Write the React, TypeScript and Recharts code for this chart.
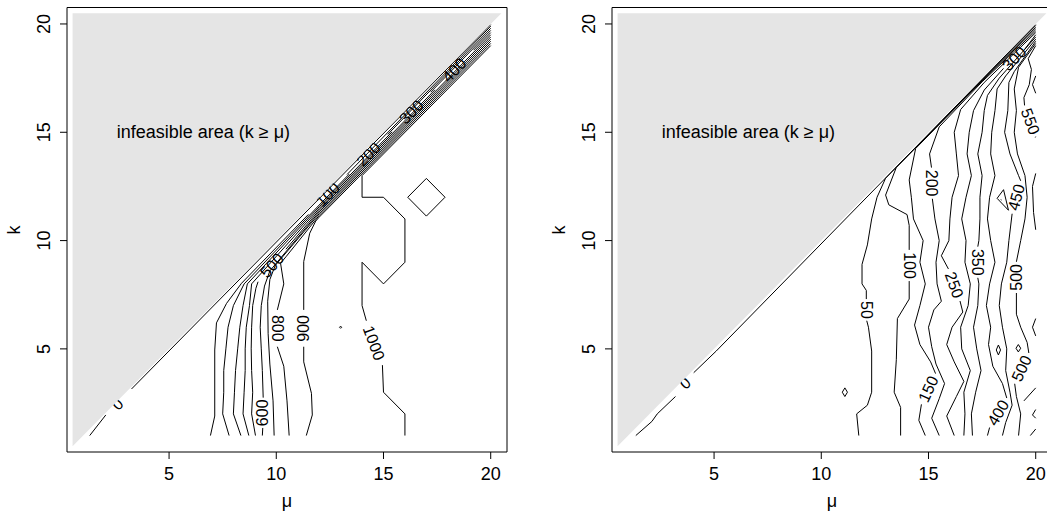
import React from 'react';
import { ComposedChart, XAxis, YAxis, Scatter, Area, ReferenceArea } from 'recharts';

type Pt = [number, number];
type Seg = Pt[];

const FONT = '"Liberation Sans", Arial, Helvetica, sans-serif';

const muTicks = [5, 10, 15, 20];
const kTicks = [5, 10, 15, 20];
const axisDomain: [number, number] = [0.24, 20.76];
const infeasibleTriangle = [
  { x: 0.5, r: [0.5, 20.5] },
  { x: 20.5, r: [20.5, 20.5] },
];
const infeasibleText = [{ x: 6.6, y: 15, t: 'infeasible area (k \u2265 \u03bc)' }];

// ---------- left panel contours (mu, k) ----------
const left0: Seg[] = [
  [[1.3, 1.0], [2.05, 1.95]],
  [[3.25, 3.15], [20, 19.97]],
];
const left100: Seg[] = [
  [[6.93, 1.0], [7.13, 1.9], [7.13, 4.95], [7.21, 6.2], [7.68, 7.1], [8.38, 8.03], [11.5, 11.21]],
  [[13.3, 13.05], [20, 19.9]],
];
const left200: Seg[] = [
  [[7.8, 1.0], [7.5, 2.0], [7.55, 3.0], [7.55, 4.0], [7.65, 5.0], [7.75, 6.0], [8.0, 7.0], [8.5, 8.0], [12, 11.64], [13.4, 13.07]],
  [[15.2, 14.9], [20, 19.8]],
];
const left300: Seg[] = [
  [[8.35, 1.0], [8.0, 2.0], [8.05, 3.0], [8.1, 4.0], [8.2, 5.0], [8.3, 6.0], [8.45, 7.0], [8.65, 8.0], [12, 11.56], [15.4, 15.02]],
  [[17.2, 16.85], [20, 19.7]],
];
const left400: Seg[] = [
  [[8.72, 1.0], [8.45, 2.0], [8.5, 3.0], [8.55, 4.0], [8.55, 5.0], [8.6, 6.0], [8.75, 7.0], [8.85, 8.0], [12, 11.48], [17.4, 16.96]],
  [[19.2, 18.79], [20, 19.6]],
];
const left500: Seg[] = [
  [[9.03, 1.0], [8.85, 2.0], [8.9, 3.0], [8.85, 4.0], [8.83, 5.0], [8.85, 6.0], [8.9, 7.0], [9.05, 7.8], [9.15, 8.1]],
  [[10.45, 9.6], [12, 11.4], [20, 19.5]],
];
const left600: Seg[] = [
  [[9.35, 1.0], [9.37, 1.35]],
  [[9.39, 2.75], [9.35, 4.0], [9.3, 5.0], [9.25, 6.0], [9.3, 7.0], [9.45, 7.9], [9.7, 8.6], [12, 11.32], [20, 19.4]],
];
const left700: Seg[] = [
  [[9.9, 1.0], [9.85, 2.6], [9.7, 4.3], [9.62, 5.7], [9.6, 7.2], [9.7, 8.2], [9.95, 8.85], [12, 11.24], [20, 19.3]],
];
const left800: Seg[] = [
  [[10.6, 1.0], [10.5, 2.6], [10.35, 4.2], [10.05, 5.1]],
  [[10.05, 6.8], [10.35, 8.0], [10.2, 8.95], [10.45, 9.25], [12, 11.16], [20, 19.2]],
];
const left900: Seg[] = [
  [[11.4, 1.0], [11.68, 1.95], [11.64, 2.95], [11.28, 4.4], [11.28, 5.1]],
  [[11.28, 6.8], [11.28, 9.03], [11.56, 10.34], [11.84, 10.9], [12, 11.08], [20, 19.1]],
];
const left1000: Seg[] = [
  [[16, 1.0], [16, 2.0], [15, 3.0], [14.95, 4.25]],
  [[14.2, 6.3], [14, 7.0], [14, 9.0], [15, 8.0], [16, 9.0], [16, 11.0], [15, 12.0], [14, 12.0], [14, 13.0], [20, 19.0]],
];
const leftSmall: Seg[] = [
  [[17, 12.87], [17.87, 12], [17, 11.13], [16.13, 12], [17, 12.87]],
  [[13, 6.05], [13.05, 6], [13, 5.95], [12.95, 6], [13, 6.05]],
];
const leftLabels = [
  { x: 2.6, y: 2.45, t: '0', a: -45 },
  { x: 12.4, y: 12.13, t: '100', a: -45 },
  { x: 14.3, y: 13.99, t: '200', a: -45 },
  { x: 16.3, y: 15.94, t: '300', a: -45 },
  { x: 18.3, y: 17.87, t: '400', a: -45 },
  { x: 9.8, y: 8.85, t: '500', a: -48 },
  { x: 9.38, y: 2.05, t: '600', a: -90 },
  { x: 10.05, y: 5.95, t: '800', a: 90 },
  { x: 11.28, y: 5.95, t: '900', a: -90 },
  { x: 14.55, y: 5.27, t: '1000', a: 70 },
];

// ---------- right panel contours (mu, k) ----------
const right0: Seg[] = [
  [[1.35, 1.0], [2.1, 1.65], [2.35, 2.0], [3.2, 2.8]],
  [[4.05, 3.9], [5.1, 4.9], [20, 19.97]],
];
const right50: Seg[] = [
  [[11.75, 1.0], [11.65, 2.0], [12.15, 2.4], [12.35, 3.0], [12.35, 4.9], [12.2, 6.0], [12.12, 6.3]],
  [[12.1, 7.3], [12.1, 7.7], [11.9, 8.0], [11.9, 8.9], [12.15, 9.8], [12.35, 11.0], [12.6, 12.0], [13.0, 12.88], [17.5, 17.42], [20, 19.93]],
];
const right100: Seg[] = [
  [[13.7, 1.0], [13.7, 2.3], [13.4, 3.0], [13.5, 4.5], [13.55, 6.4], [14.1, 7.3], [14.1, 8.13]],
  [[14.1, 9.57], [14.1, 10.7], [14.0, 11.2], [13.15, 11.65], [13.0, 12.1], [13.5, 13.38], [17.5, 17.4], [20, 19.85]],
];
const right150: Seg[] = [
  [[14.85, 1.0], [14.55, 1.7], [14.67, 2.44]],
  [[15.33, 3.86], [15.1, 4.4], [14.6, 5.2], [14.35, 6.1], [14.6, 7.0], [14.85, 8.0], [14.6, 9.0], [14.75, 10.0], [14.3, 11.0], [14.2, 12.0], [14.1, 12.8], [14.4, 14.25], [17.5, 17.37], [20, 19.77]],
];
const right200: Seg[] = [
  [[15.5, 1.0], [15.15, 1.8], [15.5, 2.7], [15.75, 3.4], [15.35, 4.3], [15.15, 5.1], [15.0, 6.0], [15.25, 6.8], [15.6, 7.2], [15.4, 8.0], [15.35, 9.0], [15.5, 10.0], [15.3, 11.0], [15.18, 11.93]],
  [[15.14, 13.37], [15.05, 14.0], [15.5, 15.25], [17.5, 17.33], [20, 19.68]],
];
const right250: Seg[] = [
  [[16.2, 1.0], [15.85, 1.9], [16.3, 2.8], [16.65, 3.5], [16.2, 4.4], [15.85, 5.2], [16.1, 6.0], [16.6, 6.7], [16.47, 7.21]],
  [[15.93, 8.69], [15.6, 9.3], [15.95, 10.0], [16.0, 11.0], [16.1, 12.0], [16.4, 13.0], [16.3, 14.0], [16.2, 15.0], [16.5, 16.05], [17.6, 17.3], [20, 19.6]],
];
const right300: Seg[] = [
  [[16.65, 1.0], [16.7, 2.0], [16.65, 3.0], [16.95, 4.0], [16.55, 5.0], [16.5, 6.0], [16.85, 7.0], [16.95, 8.0], [16.7, 9.0], [16.75, 10.0], [16.55, 11.0], [16.75, 12.0], [17.0, 13.0], [16.8, 14.0], [16.9, 15.0], [17.1, 16.0], [17.6, 16.95], [18.5, 17.95]],
  [[19.5, 18.85], [20, 19.5]],
];
const right350: Seg[] = [
  [[17.05, 1.0], [17.0, 2.0], [17.2, 3.0], [17.45, 4.0], [17.25, 5.0], [17.1, 6.0], [17.3, 7.0], [17.35, 8.0], [17.3, 8.28]],
  [[17.3, 9.72], [17.35, 10.0], [17.4, 11.0], [17.4, 12.0], [17.5, 13.0], [17.3, 14.0], [17.5, 15.0], [17.6, 16.0], [17.75, 16.7], [18.3, 17.5], [20, 19.4]],
];
const right400: Seg[] = [
  [[17.75, 1.0], [17.85, 1.37]],
  [[18.65, 2.73], [18.45, 3.4], [18.0, 4.2], [17.8, 5.2], [17.9, 6.0], [17.7, 7.0], [17.85, 8.0], [18.1, 9.0], [17.9, 10.0], [17.75, 11.0], [17.85, 12.0], [18.1, 13.0], [17.9, 14.0], [17.95, 15.0], [18.1, 16.0], [18.2, 17.0], [18.6, 17.6], [20, 19.3]],
];
const right450: Seg[] = [
  [[18.45, 1.0], [18.6, 1.6], [18.9, 2.4], [18.8, 3.0], [18.6, 4.0], [18.65, 5.0], [18.45, 6.0], [18.3, 7.0], [18.4, 8.0], [18.65, 9.0], [18.75, 10.0], [18.9, 11.24]],
  [[19.3, 12.76], [19.2, 13.0], [18.8, 14.0], [18.55, 15.0], [18.7, 16.0], [18.75, 17.3], [19.0, 17.8], [20, 19.2]],
];
const right500: Seg[] = [
  [[19.2, 1.0], [19.3, 2.0], [19.1, 2.8], [19.02, 3.39]],
  [[19.68, 4.81], [19.6, 5.3], [19.3, 6.0], [19.1, 6.6], [19.1, 7.58]],
  [[19.1, 9.02], [19.3, 10.0], [19.5, 11.0], [19.6, 12.0], [19.5, 13.0], [19.15, 14.0], [19.0, 15.0], [19.1, 16.0], [19.0, 17.0], [19.2, 18.0], [20, 19.1]],
];
const right550: Seg[] = [
  [[20, 19.0], [19.65, 18.4], [19.8, 17.9], [19.7, 17.2], [19.45, 16.6], [19.48, 16.24]],
  [[20, 14.8], [19.98, 14.76]],
];
const rightSmall: Seg[] = [
  [[11.1, 3.2], [11.22, 3.0], [11.1, 2.8], [10.98, 3.0], [11.1, 3.2]],
  [[18.26, 5.18], [18.36, 4.95], [18.26, 4.72], [18.16, 4.95], [18.26, 5.18]],
  [[19.19, 5.2], [19.3, 5.03], [19.19, 4.86], [19.08, 5.03], [19.19, 5.2]],
  [[18.2, 11.95], [18.5, 12.35], [18.73, 11.4], [18.2, 11.95]],
  [[18.38, 11.9], [18.4, 11.86]],
  [[20, 17.6], [19.85, 17.2], [20, 16.8]],
  [[20, 13.1], [19.85, 12.5], [19.9, 11.3], [20, 10.5]],
  [[20, 6.4], [19.85, 6.0], [20, 5.6]],
  [[19.45, 2.6], [20, 3.2]],
  [[20, 2.2], [19.85, 1.95], [20, 1.8]],
  [[19.75, 1.0], [20, 1.3]],
];
const rightLabels = [
  { x: 3.65, y: 3.42, t: '0', a: -42 },
  { x: 12.1, y: 6.8, t: '50', a: 90 },
  { x: 14.1, y: 8.85, t: '100', a: 90 },
  { x: 15.0, y: 3.15, t: '150', a: -65 },
  { x: 15.16, y: 12.65, t: '200', a: 90 },
  { x: 16.2, y: 7.95, t: '250', a: 70 },
  { x: 19.0, y: 18.4, t: '300', a: -45 },
  { x: 17.3, y: 9.0, t: '350', a: 90 },
  { x: 18.25, y: 2.05, t: '400', a: -60 },
  { x: 19.1, y: 12.0, t: '450', a: -75 },
  { x: 19.1, y: 8.3, t: '500', a: -90 },
  { x: 19.35, y: 4.1, t: '500', a: -65 },
  { x: 19.75, y: 15.5, t: '550', a: 70 },
];

const leftContours: Seg[][] = [left0, left100, left200, left300, left400, left500, left600, left700, left800, left900, left1000, leftSmall];
const rightContours: Seg[][] = [right0, right50, right100, right150, right200, right250, right300, right350, right400, right450, right500, right550, rightSmall];

const toXY = (s: Seg) => s.map(([x, y]) => ({ x, y }));
const noShape = () => <g />;

const labelShape = (p: any) => {
  const { cx, cy, payload } = p;
  return (
    <text x={cx} y={cy} transform={`rotate(${payload.a} ${cx} ${cy})`} textAnchor="middle" dominantBaseline="central" fontSize={16} fontFamily={FONT} fill="#000">
      {payload.t}
    </text>
  );
};

const textShape = (p: any) => {
  const { cx, cy, payload } = p;
  return (
    <text x={cx} y={cy + 6} textAnchor="middle" fontSize={18} fontFamily={FONT} fill="#000">
      {payload.t}
    </text>
  );
};

const XTick = (p: any) => (
  <text x={p.x} y={p.y + 13} textAnchor="middle" fontSize={18} fontFamily={FONT} fill="#000">
    {p.payload.value}
  </text>
);
const YTick = (p: any) => (
  <text x={p.x} y={p.y} transform={`rotate(-90 ${p.x} ${p.y})`} textAnchor="middle" fontSize={18} fontFamily={FONT} fill="#000">
    {p.payload.value}
  </text>
);

function Panel({ contours, labels, left }: { contours: Seg[][]; labels: any[]; left: number }) {
  const segs = contours.flat();
  return (
    <div style={{ position: 'absolute', left, top: 0 }}>
      <ComposedChart width={530} height={515} margin={{ top: 7.5, right: 23, bottom: 0, left: 0 }}>
        <XAxis dataKey="x" type="number" domain={axisDomain} ticks={muTicks} interval={0} allowDataOverflow axisLine={false} tickSize={7} tickMargin={8} stroke="#000" height={63} tick={XTick} />
        <YAxis dataKey="y" type="number" domain={axisDomain} ticks={kTicks} interval={0} allowDataOverflow axisLine={false} tickSize={7} tickMargin={10} stroke="#000" width={67} tick={YTick} />
        {segs.map((s, i) => (
          <Scatter key={'c' + i} data={toXY(s)} fill="#000" line={{ stroke: '#000', strokeWidth: 1 }} lineType="joint" shape={noShape} isAnimationActive={false} zIndex={500} />
        ))}
        <Scatter data={labels} shape={labelShape} isAnimationActive={false} zIndex={550} />
        <Area data={infeasibleTriangle} dataKey="r" type="linear" fill="#e5e5e5" fillOpacity={1} stroke="none" dot={false} activeDot={false} isAnimationActive={false} zIndex={700} />
        <Scatter data={infeasibleText} shape={textShape} isAnimationActive={false} zIndex={800} />
        <ReferenceArea x1={0.24} x2={20.76} y1={0.24} y2={20.76} fill="none" fillOpacity={0} stroke="#000" strokeWidth={1} strokeOpacity={1} ifOverflow="visible" zIndex={900} />
      </ComposedChart>
    </div>
  );
}

export default function App() {
  return (
    <div style={{ position: 'absolute', left: 0, top: 0, width: 1047, height: 515, overflow: 'hidden', background: '#fff' }}>
      <Panel contours={leftContours} labels={leftLabels} left={0} />
      <Panel contours={rightContours} labels={rightLabels} left={545} />
      <svg width={1047} height={515} style={{ position: 'absolute', left: 0, top: 0, pointerEvents: 'none' }}>
        <text x={287} y={507} textAnchor="middle" fontSize={18} fontFamily={FONT} fill="#000">μ</text>
        <text x={832} y={507} textAnchor="middle" fontSize={18} fontFamily={FONT} fill="#000">μ</text>
        <text x={19.5} y={230} transform="rotate(-90 19.5 230)" textAnchor="middle" fontSize={18} fontFamily={FONT} fill="#000">k</text>
        <text x={564.5} y={230} transform="rotate(-90 564.5 230)" textAnchor="middle" fontSize={18} fontFamily={FONT} fill="#000">k</text>
      </svg>
    </div>
  );
}
